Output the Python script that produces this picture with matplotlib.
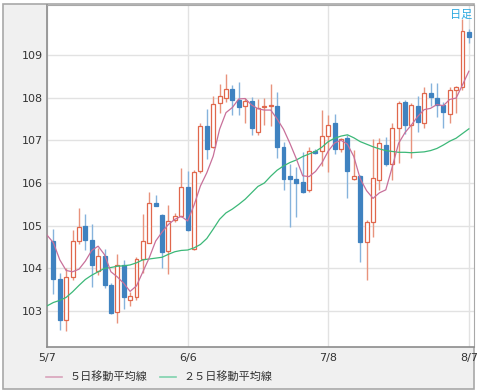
import matplotlib
matplotlib.use("Agg")
import matplotlib.pyplot as plt
from matplotlib.patches import Rectangle
from matplotlib.lines import Line2D
import numpy as np

# ---- data ----
tick_days = [0, 22, 44, 66]
tick_labels = ["5/7", "6/6", "7/8", "8/7"]
y_ticks = [103, 104, 105, 106, 107, 108, 109]

candle_days = list(range(1, 67))
opens = [104.64, 103.76, 102.78, 103.79, 104.63, 104.99, 104.66, 103.94, 104.28, 103.60,
         102.97, 104.07, 103.27, 103.34, 104.23, 104.60, 105.54, 105.25, 104.41, 105.13,
         105.23, 105.91, 104.45, 106.27, 107.34, 106.84, 107.87, 108.00, 108.20, 107.95,
         107.80, 107.93, 107.20, 107.78, 107.80, 107.81, 106.84, 106.16, 106.09, 106.02,
         105.84, 106.76, 106.76, 107.10, 107.40, 106.79, 107.06, 106.10, 106.16, 104.62,
         105.09, 106.07, 106.89, 106.44, 107.28, 107.90, 107.36, 107.81, 107.41, 108.10,
         108.00, 107.83, 107.62, 108.18, 108.24, 109.54]
highs = [104.92, 103.90, 104.00, 104.90, 105.41, 105.27, 105.05, 104.47, 104.45, 103.65,
         104.34, 104.20, 103.45, 104.26, 105.27, 105.80, 105.72, 105.28, 105.48, 105.29,
         106.36, 106.28, 106.30, 107.41, 107.73, 108.05, 108.32, 108.55, 108.30, 108.37,
         108.00, 108.02, 107.98, 108.00, 108.32, 108.13, 106.95, 106.44, 106.38, 106.72,
         106.85, 106.80, 107.71, 107.59, 107.61, 107.05, 107.13, 106.77, 106.18, 105.13,
         107.02, 107.05, 107.07, 107.40, 107.93, 107.95, 107.88, 108.04, 108.26, 108.34,
         108.35, 107.90, 108.26, 108.28, 109.84, 109.60]
lows = [103.39, 102.55, 102.54, 103.73, 104.57, 104.43, 103.57, 103.84, 103.55, 102.94,
        102.73, 103.04, 103.12, 103.26, 103.88, 104.59, 105.45, 104.00, 103.87, 105.09,
        105.20, 104.88, 104.43, 106.23, 106.56, 106.82, 107.63, 107.90, 107.60, 107.59,
        107.40, 107.12, 107.12, 107.35, 107.33, 106.58, 105.84, 104.98, 105.20, 105.76,
        105.80, 106.68, 106.40, 106.25, 106.68, 106.73, 105.64, 106.06, 104.14, 103.73,
        104.74, 105.84, 106.40, 106.07, 106.46, 107.16, 106.58, 107.20, 107.28, 107.80,
        107.54, 107.28, 107.40, 107.63, 108.18, 109.29]
closes = [103.74, 102.78, 103.80, 104.63, 104.96, 104.66, 104.07, 104.29, 103.60, 102.96,
          104.09, 103.32, 103.35, 104.23, 104.63, 105.53, 105.46, 104.39, 105.12, 105.23,
          105.91, 104.90, 106.25, 107.34, 106.80, 107.85, 108.05, 108.20, 107.95, 107.79,
          107.92, 107.28, 107.75, 107.80, 107.82, 106.84, 106.10, 106.09, 106.00, 105.80,
          106.76, 106.71, 107.10, 107.36, 106.79, 107.02, 106.29, 106.16, 104.61, 105.09,
          106.12, 106.93, 106.44, 107.28, 107.87, 107.36, 107.83, 107.44, 108.10, 108.02,
          107.83, 107.66, 108.18, 108.24, 109.57, 109.43]

ma_days = list(range(0, 67))
ma5 = [104.78, 104.60, 104.20, 103.95, 103.92, 103.98, 104.17, 104.42, 104.52, 104.32,
       103.92, 103.80, 103.65, 103.46, 103.59, 103.92, 104.25, 104.64, 104.85, 105.03,
       105.15, 105.22, 105.11, 105.48, 105.93, 106.24, 106.63, 107.26, 107.65, 107.77,
       107.97, 107.98, 107.83, 107.74, 107.71, 107.71, 107.50, 107.26, 106.93, 106.57,
       106.17, 106.15, 106.27, 106.47, 106.75, 106.94, 107.00, 106.91, 106.62, 106.10,
       105.82, 105.64, 105.77, 105.84, 106.37, 106.93, 107.18, 107.36, 107.56, 107.72,
       107.75, 107.84, 107.81, 107.96, 107.99, 108.30, 108.62]
ma25 = [103.12, 103.20, 103.25, 103.32, 103.45, 103.60, 103.74, 103.84, 103.92, 104.00,
        104.02, 104.05, 104.06, 104.08, 104.13, 104.20, 104.22, 104.24, 104.26, 104.33,
        104.39, 104.42, 104.43, 104.48, 104.56, 104.70, 104.92, 105.15, 105.30, 105.39,
        105.50, 105.62, 105.77, 105.92, 106.00, 106.16, 106.30, 106.40, 106.48, 106.54,
        106.62, 106.68, 106.74, 106.84, 106.97, 107.05, 107.10, 107.13, 107.06, 106.97,
        106.91, 106.85, 106.80, 106.76, 106.74, 106.72, 106.72, 106.71, 106.72, 106.73,
        106.76, 106.81, 106.89, 106.98, 107.05, 107.16, 107.27]

legend_labels = ["５日移動平均線", "２５日移動平均線"]
period_label = "日足"

# ---- styling ----
W, H = 478, 392
UP_EDGE = "#e0674c"
UP_WICK = "#e8937c"
DN_FACE = "#3f82c0"
DN_WICK = "#86b3dc"
MA5_C = "#c8709a"
MA25_C = "#3cb878"
GRID_C = "#e2e2e2"
TEXT_C = "#333333"

plt.rcParams["font.family"] = ["Noto Sans CJK JP", "DejaVu Sans"]

fig = plt.figure(figsize=(W / 100, H / 100), dpi=100)
fig.patch.set_facecolor("white")
# outer frame with light gray background (drawn beneath the axes)
frame = Rectangle((3 / W, (H - 389) / H), (474 - 3) / W, (389 - 4) / H,
                  transform=fig.transFigure, facecolor="#f0f0f0",
                  edgecolor="#a8a8a8", linewidth=1.2, zorder=-10)
fig.add_artist(frame)

ax = fig.add_axes([47 / W, (H - 347) / H, (474 - 47) / W, (347 - 5) / H])
ax.set_zorder(5)
ax.set_facecolor("white")
ax.set_xlim(0, 66.8)
ax.set_ylim(102.157, 110.172)

for yv in y_ticks:
    ax.axhline(yv, color=GRID_C, lw=1, zorder=0)
for xv in tick_days:
    ax.axvline(xv, color=GRID_C, lw=1, zorder=0)

o = np.array(opens); c = np.array(closes); h = np.array(highs); l = np.array(lows)
x = np.array(candle_days)
up = c >= o
dn = ~up

ax.vlines(x[up], l[up], h[up], color=UP_WICK, lw=1, zorder=2)
ax.vlines(x[dn], l[dn], h[dn], color=DN_WICK, lw=1, zorder=2)
ax.bar(x[up], (c - o)[up], bottom=o[up], width=0.62, facecolor="white",
       edgecolor=UP_EDGE, linewidth=0.9, zorder=3)
ax.bar(x[dn], (o - c)[dn], bottom=c[dn], width=0.62, facecolor=DN_FACE,
       edgecolor=DN_FACE, linewidth=0.9, zorder=3)

ax.plot(ma_days, ma25, color=MA25_C, lw=0.9, zorder=4)
ax.plot(ma_days, ma5, color=MA5_C, lw=0.9, zorder=4)

ax.set_xticks(tick_days)
ax.set_xticklabels(tick_labels, family="DejaVu Sans")
ax.set_yticks(y_ticks)
ax.set_yticklabels([str(v) for v in y_ticks], family="DejaVu Sans")
ax.tick_params(axis="both", length=0, labelsize=8, colors=TEXT_C)
ax.tick_params(axis="x", pad=4)
ax.tick_params(axis="y", pad=3)

for side in ["left", "bottom"]:
    ax.spines[side].set_color("#8c8c8c")
    ax.spines[side].set_linewidth(1.2)
ax.spines["top"].set_color("#a8a8a8")
ax.spines["right"].set_color("#a8a8a8")

ax.text(0.995, 0.985, period_label, transform=ax.transAxes, ha="right", va="top",
        fontsize=8, color="#2aa8e0")

# legend
ly = (H - 377) / H
fig.add_artist(Line2D([46 / W, 62 / W], [ly, ly], transform=fig.transFigure,
                      color="#d9a3ba", lw=1.2))
fig.text(70 / W, ly, legend_labels[0], fontsize=8, color=TEXT_C, va="center", ha="left")
fig.add_artist(Line2D([160 / W, 176 / W], [ly, ly], transform=fig.transFigure,
                      color="#7fd3ad", lw=1.2))
fig.text(183 / W, ly, legend_labels[1], fontsize=8, color=TEXT_C, va="center", ha="left")

fig.savefig("out.png", dpi=100, facecolor=fig.get_facecolor())
